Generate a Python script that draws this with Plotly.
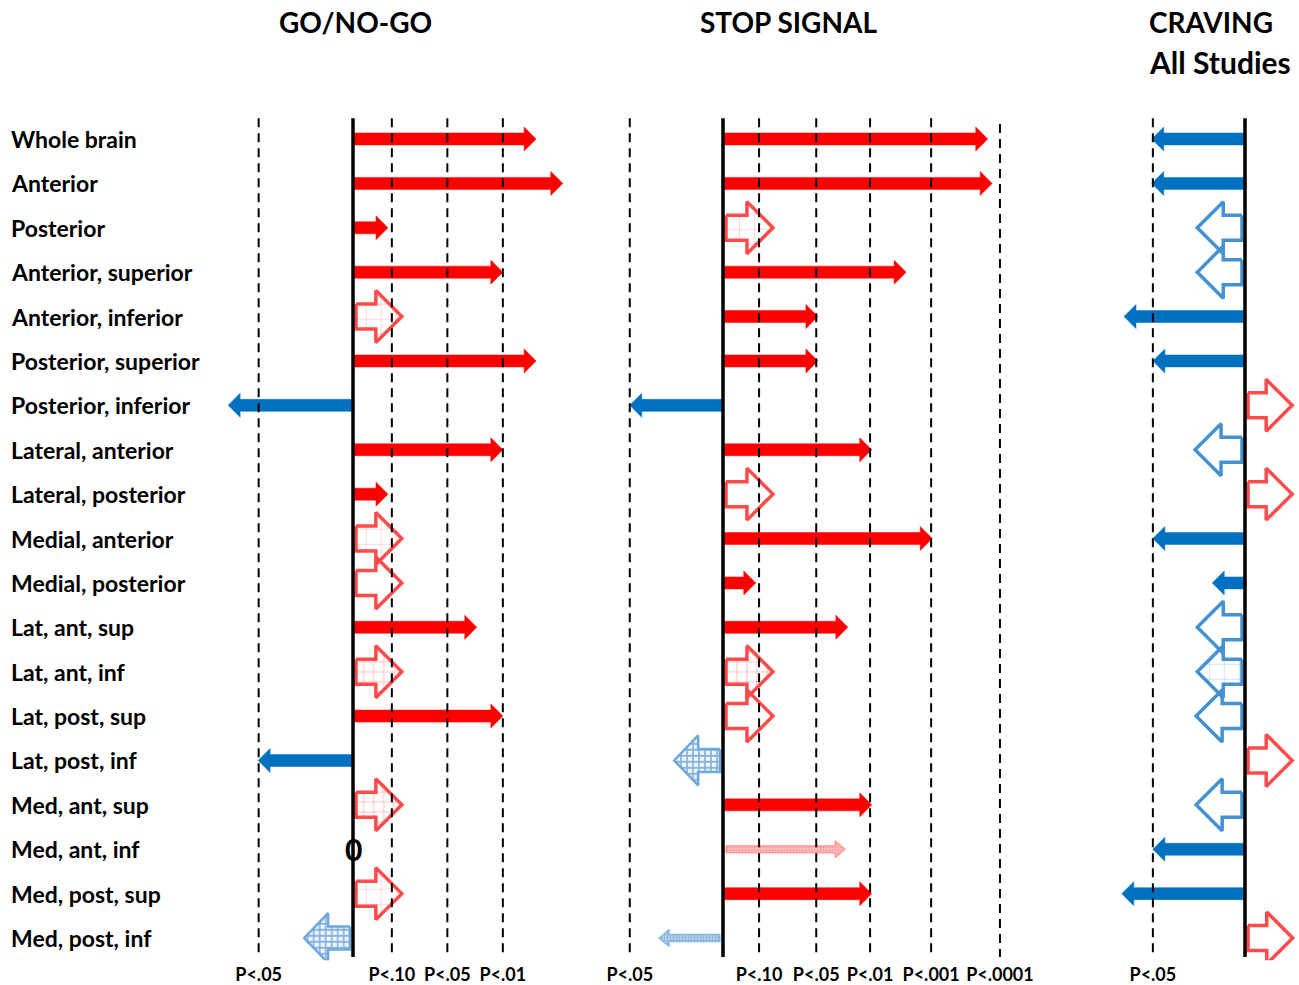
import plotly.graph_objects as go

# ---------------- data ----------------
rows = [
    "Whole brain", "Anterior", "Posterior", "Anterior, superior", "Anterior, inferior",
    "Posterior, superior", "Posterior, inferior", "Lateral, anterior", "Lateral, posterior",
    "Medial, anterior", "Medial, posterior", "Lat, ant, sup", "Lat, ant, inf",
    "Lat, post, sup", "Lat, post, inf", "Med, ant, sup", "Med, ant, inf",
    "Med, post, sup", "Med, post, inf",
]

# signed effect positions on each panel's significance scale (None = no arrow)
gonogo_values = [3.30, 3.78, 0.63, 2.70, 0.88, 3.30, -2.25, 2.70, 0.63, 0.88,
                 0.88, 2.23, 0.88, 2.70, -1.71, 0.88, None, 0.88, -0.88]
gonogo_styles = ["solid", "solid", "solid", "solid", "dotted", "solid", "solid", "solid",
                 "solid", "dotted", "hollow", "solid", "grid", "solid", "solid", "grid",
                 None, "dotted", "checker"]

stop_values = [4.77, 4.85, 0.90, 3.30, 1.71, 1.71, -1.68, 2.68, 0.90, 3.77,
               0.59, 2.25, 0.90, 0.90, -0.88, 2.68, 2.20, 2.68, -1.15]
stop_styles = ["solid", "solid", "dotted", "solid", "solid", "solid", "solid", "solid",
               "hollow", "solid", "solid", "solid", "grid", "hollow", "checker", "solid",
               "thin", "solid", "thin"]

craving_values = [-1.68, -1.68, -0.86, -0.86, -2.18, -1.66, 0.85, -0.90, 0.85, -1.66,
                  -0.59, -0.86, -0.86, -0.88, 0.85, -0.88, -1.66, -2.22, 0.86]
craving_styles = ["solid", "solid", "hollow", "hollow", "solid", "solid", "hollow", "hollow",
                  "hollow", "solid", "solid", "hollow", "dotted", "hollow", "hollow", "hollow",
                  "solid", "solid", "hollow"]

gonogo_ticks = [-1.7, 0.7, 1.7, 2.7]
gonogo_ticklabels = ["P<.05", "P<.10", "P<.05", "P<.01"]
stop_ticks = [-1.68, 0.65, 1.68, 2.65, 3.75, 4.99]
stop_ticklabels = ["P<.05", "P<.10", "P<.05", "P<.01", "P<.001", "P<.0001"]
craving_ticks = [-1.66]
craving_ticklabels = ["P<.05"]

# ---------------- layout geometry ----------------
W, H = 1299, 985
XU = 55.5           # px per scale unit
ROW_TOP = 139       # px centre of first row
YU = 44.39          # px per row
FONT = "Lato"

panels = [
    dict(axis="x", zero=353, rng=(-2.6, 4.2), vals=gonogo_values, styles=gonogo_styles,
         ticks=gonogo_ticks, labels=gonogo_ticklabels),
    dict(axis="x2", zero=723, rng=(-2.0, 5.3), vals=stop_values, styles=stop_styles,
         ticks=stop_ticks, labels=stop_ticklabels),
    dict(axis="x3", zero=1245, rng=(-2.4, 0.97), vals=craving_values, styles=craving_styles,
         ticks=craving_ticks, labels=craving_ticklabels),
]

RED, BLUE = "#FF0000", "#0070C0"
RED_LIGHT, BLUE_LIGHT = "#FF4B4B", "#4492D2"

# half shaft, half head, head length, start offset (px)
GEOM = {
    "solid": (6, 12, 12, 1),
    "hollow": (12.5, 26, 26, 3),
    "dotted": (12.5, 26, 26, 3),
    "grid": (12.5, 26, 26, 3),
    "checker": (11.5, 25, 24, 3),
    "thin": (3.5, 8.5, 10, 3),
}


def arrow_poly(value, row, style):
    d = 1 if value > 0 else -1
    hs, hh, hl, start = GEOM[style]
    x0 = d * start / XU
    xb = value - d * hl / XU
    hs, hh = hs / YU, hh / YU
    xs = [x0, xb, xb, value, xb, xb, x0, x0]
    ys = [row - hs, row - hs, row - hh, row, row + hh, row + hs, row + hs, row - hs]
    return xs, ys


def arrow_trace(value, row, style, xaxis):
    xs, ys = arrow_poly(value, row, style)
    pos = value > 0
    base = dict(x=xs, y=ys, xaxis=xaxis, yaxis="y", mode="lines", fill="toself",
                hoverinfo="skip", showlegend=False)
    if style == "solid":
        c = RED if pos else BLUE
        return go.Scatter(**base, fillcolor=c, line=dict(color=c, width=0.5))
    if style == "hollow":
        c = RED_LIGHT if pos else BLUE_LIGHT
        return go.Scatter(**base, fillcolor="rgba(255,255,255,0)", line=dict(color=c, width=3.5))
    if style == "dotted":
        c = RED_LIGHT if pos else BLUE_LIGHT
        fg = "rgba(255,90,90,0.8)" if pos else "rgba(70,146,210,0.8)"
        return go.Scatter(**base, line=dict(color=c, width=3.5),
                          fillpattern=dict(shape="+", fgcolor=fg, bgcolor="rgba(255,255,255,0)",
                                           size=15, solidity=0.08))
    if style == "grid":
        c = RED_LIGHT if pos else BLUE_LIGHT
        return go.Scatter(**base, line=dict(color=c, width=3.5),
                          fillpattern=dict(shape="+", fgcolor=c, bgcolor="rgba(255,255,255,0)",
                                           size=10, solidity=0.14))
    if style == "checker":
        return go.Scatter(**base, line=dict(color="#6FA8DC", width=2.5),
                          fillpattern=dict(shape="+", fgcolor="#2A72B8",
                                           bgcolor="rgba(235,243,251,0.8)", size=6, solidity=0.5))
    if style == "thin":
        if pos:
            fg, bg, ln = "#FF6060", "#FFC4C4", "rgba(255,120,120,0.6)"
        else:
            fg, bg, ln = "#2E75B6", "#BDD7EE", "rgba(90,155,213,0.6)"
        return go.Scatter(**base, line=dict(color=ln, width=1.5),
                          fillpattern=dict(shape=".", fgcolor=fg, bgcolor=bg, size=3, solidity=0.4))


fig = go.Figure()
shapes = []
layout_axes = {}

y_top, y_bot = -0.47, 18.43

for i, p in enumerate(panels):
    for row, (v, s) in enumerate(zip(p["vals"], p["styles"])):
        if v is None or s is None:
            continue
        fig.add_trace(arrow_trace(v, row, s, p["axis"]))

    xref = p["axis"]
    for t in p["ticks"]:
        top = y_top + (0.13 if t > 4.5 else 0)
        shapes.append(dict(type="line", xref=xref, yref="y", x0=t, x1=t, y0=top, y1=y_bot,
                           line=dict(color="black", width=2, dash="9px,6px"), layer="above"))
    shapes.append(dict(type="line", xref=xref, yref="y", x0=0, x1=0, y0=y_top, y1=y_bot,
                       line=dict(color="black", width=3.5), layer="above"))

    lo, hi = p["rng"]
    dom = [(p["zero"] + lo * XU) / W, (p["zero"] + hi * XU) / W]
    name = "xaxis" if i == 0 else f"xaxis{i + 1}"
    layout_axes[name] = dict(
        domain=dom, range=[lo, hi], anchor="y", showgrid=False, zeroline=False,
        showline=False, ticks="", tickvals=p["ticks"], ticktext=p["labels"],
        tickfont=dict(family=FONT, size=18, color="black", weight="bold"),
        ticklabelstandoff=2, automargin=False, fixedrange=True,
    )

y_dom_top = 1 - (ROW_TOP - 0.5 * YU) / H
y_dom_bot = 1 - (ROW_TOP + 18.5 * YU) / H

annotations = []
for row, name in enumerate(rows):
    annotations.append(dict(text=name, xref="paper", yref="y", x=9 / W, y=row,
                            xanchor="left", yanchor="middle", showarrow=False,
                            font=dict(family=FONT, size=23, color="black", weight="bold")))

title_font = dict(family=FONT, size=28, color="black", weight="bold")
annotations += [
    dict(text="GO/NO-GO", xref="paper", yref="paper", x=355 / W, y=1 - 22 / H,
         xanchor="center", yanchor="middle", showarrow=False, font=title_font),
    dict(text="STOP SIGNAL", xref="paper", yref="paper", x=788 / W, y=1 - 22 / H,
         xanchor="center", yanchor="middle", showarrow=False, font=title_font),
    dict(text="CRAVING", xref="paper", yref="paper", x=1147 / W, y=1 - 22 / H,
         xanchor="left", yanchor="middle", showarrow=False, font=title_font),
    dict(text="All Studies", xref="paper", yref="paper", x=1147 / W, y=1 - 62 / H,
         xanchor="left", yanchor="middle", showarrow=False,
         font=dict(family=FONT, size=30, color="black", weight="bold")),
    dict(text="0", xref="x", yref="y", x=0, y=16, xanchor="center", yanchor="middle",
         showarrow=False, font=dict(family=FONT, size=30, color="black", weight="bold")),
]

fig.update_layout(
    width=W, height=H, margin=dict(l=0, r=0, t=0, b=0, pad=0, autoexpand=False),
    paper_bgcolor="white", plot_bgcolor="rgba(0,0,0,0)",
    yaxis=dict(domain=[y_dom_bot, y_dom_top], range=[18.5, -0.5], visible=False,
               automargin=False, fixedrange=True),
    shapes=shapes, annotations=annotations, showlegend=False,
    **layout_axes,
)

fig.write_html(
    "out.html",
    config={"displayModeBar": False, "responsive": False},
    post_script="document.body.style.margin='0';document.body.style.overflow='hidden';",
)
